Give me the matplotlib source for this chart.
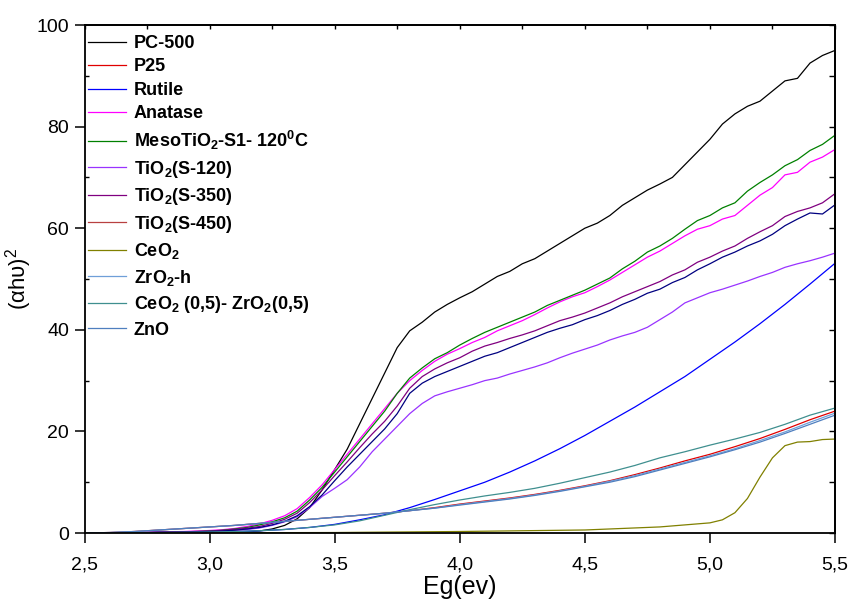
import matplotlib
matplotlib.use('Agg')
import matplotlib.pyplot as plt
import numpy as np
from matplotlib.ticker import MultipleLocator, FuncFormatter, NullLocator

plt.rcParams['font.family'] = ['Liberation Sans', 'DejaVu Sans']
plt.rcParams['mathtext.fontset'] = 'custom'
plt.rcParams['mathtext.rm'] = 'Liberation Sans'
plt.rcParams['mathtext.bf'] = 'Liberation Sans:bold'

# siatka energii (eV)
eg_fine = np.round(np.arange(2.5, 5.5001, 0.05), 2)   # 61 punktow
eg_coarse = np.round(np.arange(2.5, 5.5001, 0.1), 2)  # 31 punktow
eg_ceo2 = [2.5, 3.0, 3.5, 4.0, 4.5, 4.8, 5.0, 5.05, 5.1, 5.15, 5.2, 5.25, 5.3, 5.35, 5.4, 5.45, 5.5]

pc500 = [0, 0, 0, 0, 0, 0, 0.05, 0.05, 0.1, 0.1, 0.1, 0.15, 0.2,
         0.25, 0.4, 0.8, 1.5, 2.8, 5.0, 8.5, 12.5, 16.5, 21.5, 26.5, 31.5, 36.5, 39.8,
         41.5, 43.5, 45.0, 46.3, 47.5, 49.0, 50.5, 51.5, 53.0, 54.0, 55.5, 57.0, 58.5,
         60.0, 61.0, 62.5, 64.5, 66.0, 67.5, 68.7, 70.0, 72.5, 75.0, 77.5, 80.5, 82.5,
         84.0, 85.0, 87.0, 89.0, 89.5, 92.5, 94.0, 95.0]
meso = [0, 0, 0.05, 0.05, 0.1, 0.1, 0.15, 0.2, 0.25, 0.3, 0.4,
        0.55, 0.8, 1.1, 1.6, 2.2, 3.0, 4.3, 6.5, 9.0, 12.0, 15.0, 18.0, 21.0, 24.0,
        27.5, 30.5, 32.5, 34.3, 35.5, 37.0, 38.3, 39.5, 40.5, 41.5, 42.5, 43.5, 44.8,
        45.8, 46.8, 47.8, 49.0, 50.2, 52.0, 53.5, 55.3, 56.5, 58.0, 59.8, 61.5, 62.5,
        64.0, 65.0, 67.3, 69.0, 70.5, 72.3, 73.5, 75.3, 76.5, 78.3]
anatase = [0, 0, 0.05, 0.05, 0.1, 0.15, 0.2, 0.25, 0.3, 0.4, 0.5,
           0.65, 0.9, 1.3, 1.8, 2.5, 3.4, 4.8, 7.0, 9.5, 12.5, 15.5, 18.5, 21.5, 24.5,
           27.5, 30.0, 32.0, 33.8, 35.2, 36.3, 37.5, 38.5, 39.8, 40.8, 41.8, 43.0, 44.3,
           45.5, 46.5, 47.3, 48.5, 49.8, 51.3, 52.8, 54.3, 55.5, 57.0, 58.5, 59.8, 60.5,
           61.8, 62.5, 64.5, 66.5, 68.0, 70.5, 71.0, 73.0, 74.0, 75.5]
s350 = [0, 0, 0.05, 0.05, 0.1, 0.1, 0.15, 0.2, 0.25, 0.3, 0.35,
        0.5, 0.7, 0.95, 1.3, 1.9, 2.7, 3.9, 6.0, 8.5, 11.3, 14.0, 16.8, 19.5, 22.0,
        25.0, 28.5, 30.8, 32.3, 33.5, 34.5, 35.8, 36.8, 37.5, 38.3, 39.0, 39.8, 40.8,
        41.8, 42.5, 43.3, 44.3, 45.3, 46.5, 47.5, 48.5, 49.5, 50.8, 51.8, 53.3, 54.3,
        55.5, 56.5, 58.0, 59.3, 60.5, 62.3, 63.3, 64.0, 65.0, 66.8]
s450 = [0, 0, 0.05, 0.05, 0.1, 0.1, 0.15, 0.15, 0.2, 0.25, 0.3,
        0.4, 0.55, 0.8, 1.1, 1.6, 2.3, 3.4, 5.2, 7.5, 10.3, 13.0, 15.5, 18.0, 20.5,
        23.5, 27.5, 29.5, 30.8, 31.8, 32.8, 33.8, 34.8, 35.5, 36.5, 37.5, 38.5, 39.5,
        40.3, 41.0, 42.0, 42.8, 43.8, 45.0, 46.0, 47.2, 48.0, 49.3, 50.3, 51.8, 53.0,
        54.3, 55.3, 56.5, 57.5, 58.8, 60.5, 61.8, 63.0, 62.8, 64.6]
s120 = [0, 0, 0.05, 0.05, 0.1, 0.1, 0.15, 0.15, 0.2, 0.25, 0.3,
        0.4, 0.5, 0.7, 1.0, 1.5, 2.2, 3.2, 5.0, 7.2, 8.8, 10.5, 13.0, 16.0, 18.5,
        21.0, 23.5, 25.5, 27.0, 27.8, 28.5, 29.2, 30.0, 30.5, 31.3, 32.0, 32.7, 33.5,
        34.5, 35.4, 36.2, 37.0, 38.0, 38.8, 39.5, 40.5, 42.0, 43.5, 45.3, 46.3, 47.3,
        48.0, 48.8, 49.6, 50.5, 51.3, 52.3, 53.0, 53.6, 54.3, 55.1]

rutile = [0, 0, 0.05, 0.1, 0.15, 0.2, 0.3, 0.45, 0.7, 1.1, 1.7, 2.6, 3.6, 5.0, 6.6, 8.3,
          10.0, 12.0, 14.2, 16.6, 19.2, 22.0, 24.8, 27.8, 30.8, 34.2, 37.6, 41.2, 45.0,
          49.0, 53.1]
p25 = [0, 0.1, 0.3, 0.6, 0.9, 1.2, 1.5, 1.9, 2.3, 2.7, 3.1, 3.5, 3.9, 4.4, 5.0, 5.7,
       6.3, 6.9, 7.6, 8.4, 9.3, 10.3, 11.5, 12.8, 14.2, 15.5, 17.0, 18.6, 20.4, 22.3, 24.0]
zro2 = [0, 0.1, 0.3, 0.6, 0.9, 1.2, 1.5, 1.9, 2.3, 2.7, 3.1, 3.5, 3.9, 4.4, 4.9, 5.6,
        6.2, 6.8, 7.5, 8.3, 9.2, 10.2, 11.3, 12.6, 13.9, 15.2, 16.6, 18.2, 19.9, 21.8, 23.6]
zno = [0, 0.1, 0.3, 0.6, 0.9, 1.2, 1.5, 1.9, 2.3, 2.7, 3.1, 3.5, 3.9, 4.4, 4.9, 5.5,
       6.1, 6.7, 7.4, 8.2, 9.1, 10.0, 11.1, 12.4, 13.7, 15.0, 16.4, 17.9, 19.6, 21.4, 23.2]
ceo2_zro2 = [0, 0, 0.05, 0.1, 0.15, 0.2, 0.3, 0.45, 0.7, 1.1, 1.6, 2.4, 3.5, 4.6, 5.6,
             6.5, 7.3, 8.0, 8.8, 9.8, 10.9, 12.0, 13.3, 14.8, 16.0, 17.3, 18.5, 19.8,
             21.4, 23.2, 24.6]
ceo2 = [0, 0.05, 0.1, 0.3, 0.6, 1.2, 2.0, 2.6, 4.0, 6.8, 11.0, 14.8, 17.2, 17.9, 18.0,
        18.4, 18.5]

fig = plt.figure(figsize=(8.51, 6.01), dpi=100)
ax = fig.add_axes([0.0993, 0.1131, 0.8819, 0.8453])

lw = 0.9
ax.plot(eg_fine, pc500, color='black', lw=lw, label='PC-500')
ax.plot(eg_coarse, p25, color='#e00000', lw=lw, label='P25')
ax.plot(eg_coarse, rutile, color='#0000ff', lw=lw, label='Rutile')
ax.plot(eg_fine, anatase, color='#ff00ff', lw=lw, label='Anatase')
ax.plot(eg_fine, meso, color='#008000', lw=lw,
        label=r'MesoTiO$_\mathbf{2}$-S1- 120$^\mathbf{0}$C')
ax.plot(eg_fine, s120, color='#9933ff', lw=lw, label=r'TiO$_\mathbf{2}$(S-120)')
ax.plot(eg_fine, s350, color='#800080', lw=lw, label=r'TiO$_\mathbf{2}$(S-350)')
ax.plot(eg_fine, s450, color='#000080', lw=lw, label=r'TiO$_\mathbf{2}$(S-450)')
ax.plot(eg_ceo2, ceo2, color='#808000', lw=lw, label=r'CeO$_\mathbf{2}$')
ax.plot(eg_coarse, zro2, color='#6f9fd8', lw=lw, label=r'ZrO$_\mathbf{2}$-h')
ax.plot(eg_coarse, ceo2_zro2, color='#3f8f8f', lw=lw,
        label=r'CeO$_\mathbf{2}$ (0,5)- ZrO$_\mathbf{2}$(0,5)')
ax.plot(eg_coarse, zno, color='#4f7fbf', lw=lw, label='ZnO')

ax.set_xlim(2.5, 5.5)
ax.set_ylim(0, 100)

przecinek = FuncFormatter(lambda v, p: f'{v:.1f}'.replace('.', ','))
ax.xaxis.set_major_locator(MultipleLocator(0.5))
ax.xaxis.set_major_formatter(przecinek)
ax.xaxis.set_minor_locator(NullLocator())
ax.yaxis.set_major_locator(MultipleLocator(20))
ax.yaxis.set_minor_locator(MultipleLocator(10))
ax.tick_params(which='major', direction='out', length=7, width=1.1, labelsize=14)
ax.tick_params(axis='x', which='major', pad=10)
ax.tick_params(axis='y', which='major', pad=4)
ax.tick_params(which='minor', direction='in', length=3, width=1.0)

top = ax.secondary_xaxis('top')
top.xaxis.set_major_locator(MultipleLocator(0.25))
top.tick_params(direction='in', length=3, width=1.0, labeltop=False)
right = ax.secondary_yaxis('right')
right.yaxis.set_major_locator(MultipleLocator(10))
right.tick_params(direction='in', length=4, width=1.0, labelright=False)

for s in ax.spines.values():
    s.set_linewidth(1.3)
top.spines['top'].set_linewidth(1.3)
right.spines['right'].set_linewidth(1.3)

ax.set_xlabel('Eg(ev)', fontsize=18, labelpad=1)
ax.set_ylabel('(αhυ)$^\\mathregular{2}$', fontsize=16, labelpad=2)

leg = ax.legend(loc='upper left', bbox_to_anchor=(-0.009, 1.0), frameon=False,
                prop={'weight': 'bold', 'size': 13},
                handlelength=2.1, handletextpad=0.45, labelspacing=0.36,
                borderaxespad=0.0, borderpad=0.55)
# w legendzie TiO2(S-450) ma kolor czerwono-brazowy
leg.get_lines()[7].set_color('#b84040')

fig.savefig('out.png', dpi=100)
